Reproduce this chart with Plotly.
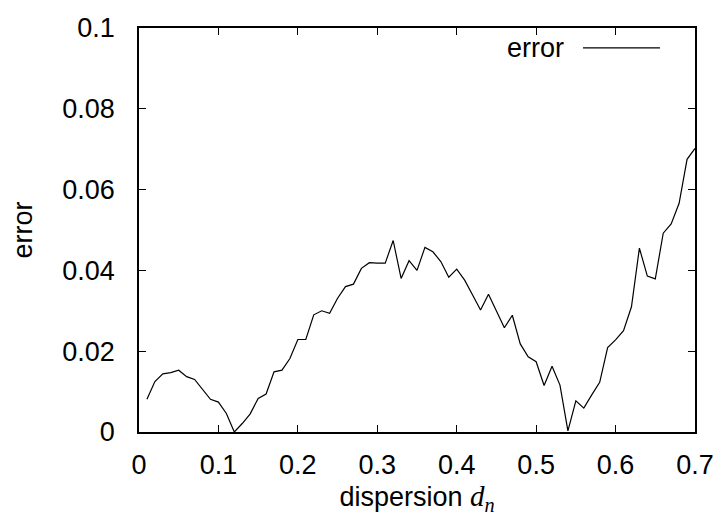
import plotly.graph_objects as go

dispersion = [0.01, 0.02, 0.03, 0.04, 0.05, 0.06, 0.07, 0.08, 0.09, 0.10,
              0.11, 0.12, 0.13, 0.14, 0.15, 0.16, 0.17, 0.18, 0.19, 0.20,
              0.21, 0.22, 0.23, 0.24, 0.25, 0.26, 0.27, 0.28, 0.29, 0.30,
              0.31, 0.32, 0.33, 0.34, 0.35, 0.36, 0.37, 0.38, 0.39, 0.40,
              0.41, 0.42, 0.43, 0.44, 0.45, 0.46, 0.47, 0.48, 0.49, 0.50,
              0.51, 0.52, 0.53, 0.54, 0.55, 0.56, 0.57, 0.58, 0.59, 0.60,
              0.61, 0.62, 0.63, 0.64, 0.65, 0.66, 0.67, 0.68, 0.69, 0.70]
error = [0.0081, 0.0125, 0.0144, 0.0147, 0.0153, 0.0137, 0.0130, 0.0104, 0.0081, 0.0074,
         0.0046, 0.0000, 0.0021, 0.0045, 0.0083, 0.0094, 0.0149, 0.0153, 0.0182, 0.0229,
         0.0229, 0.0290, 0.0300, 0.0294, 0.0331, 0.0360, 0.0366, 0.0405, 0.0419, 0.0418,
         0.0418, 0.0474, 0.0380, 0.0424, 0.0400, 0.0457, 0.0446, 0.0422, 0.0383, 0.0403,
         0.0376, 0.0339, 0.0302, 0.0341, 0.0298, 0.0258, 0.0289, 0.0218, 0.0186, 0.0174,
         0.0115, 0.0163, 0.0116, 0.0003, 0.0077, 0.0059, 0.0092, 0.0123, 0.0209, 0.0228,
         0.0251, 0.0310, 0.0455, 0.0386, 0.0379, 0.0492, 0.0515, 0.0566, 0.0675, 0.0702]

x_ticks = [0, 0.1, 0.2, 0.3, 0.4, 0.5, 0.6, 0.7]
x_tick_labels = ["0", "0.1", "0.2", "0.3", "0.4", "0.5", "0.6", "0.7"]
y_ticks = [0, 0.02, 0.04, 0.06, 0.08, 0.1]
y_tick_labels = ["0", "0.02", "0.04", "0.06", "0.08", "0.1"]

FONT = "Liberation Sans, Arial, Helvetica, sans-serif"
FS = 27

fig = go.Figure()
fig.add_trace(go.Scatter(x=dispersion, y=error, mode="lines", name="error",
                         line=dict(color="black", width=1.2), showlegend=False))

# manual legend (text left of sample line, gnuplot style)
fig.add_annotation(xref="paper", yref="paper", x=0.768, y=0.951, text="error",
                   showarrow=False, xanchor="right", yanchor="middle",
                   font=dict(family=FONT, size=FS, color="black"))
fig.add_shape(type="line", xref="paper", yref="paper", x0=0.7986, x1=0.937,
              y0=0.951, y1=0.951, line=dict(color="black", width=1.2))

axis_common = dict(showgrid=False, zeroline=False, showline=True, mirror="ticks",
                   linecolor="black", linewidth=1.5, ticks="inside", ticklen=7,
                   tickwidth=1, tickcolor="black",
                   tickfont=dict(family=FONT, size=FS, color="black"))

fig.update_xaxes(range=[0, 0.7], tickvals=x_ticks, ticktext=x_tick_labels,
                 ticklabelstandoff=8,
                 title=dict(text='dispersion <span style="font-family:Liberation Serif, Times New Roman, serif; font-size:29px"><i>d<sub>n</sub></i></span>',
                            font=dict(family=FONT, size=FS, color="black"), standoff=7),
                 **axis_common)
fig.update_yaxes(range=[0, 0.1], tickvals=y_ticks, ticktext=y_tick_labels,
                 ticklabelstandoff=17,
                 title=dict(text="error", font=dict(family=FONT, size=FS, color="black"),
                            standoff=22),
                 **axis_common)

fig.update_layout(width=718, height=521, plot_bgcolor="white", paper_bgcolor="white",
                  margin=dict(l=139, r=23, t=28, b=89, autoexpand=False),
                  font=dict(family=FONT, size=FS, color="black"))

fig.write_html("out.html")
